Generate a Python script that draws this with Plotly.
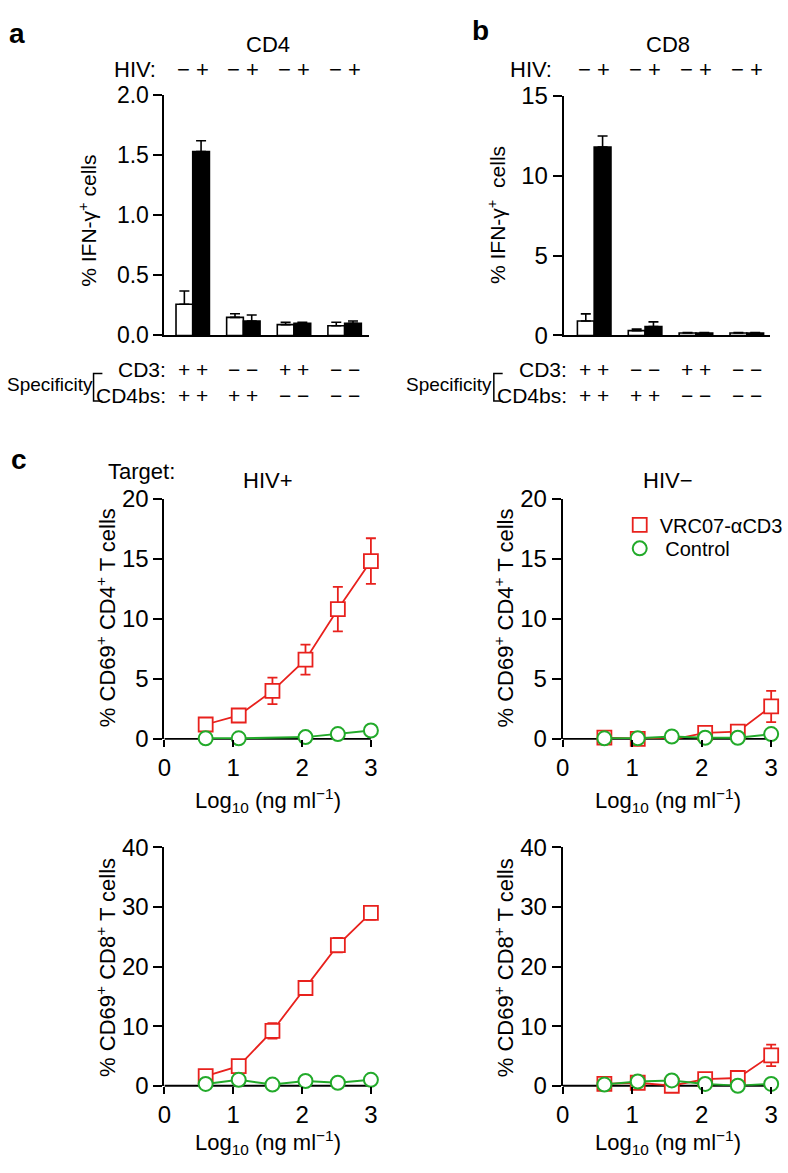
import plotly.graph_objects as go

W, H = 788, 1173
FONT = "Liberation Sans, Arial, Helvetica, sans-serif"
RED = "#e8211d"
GREEN = "#22aa2a"

# ---------------- data ----------------
cats = [0, 1, 2, 3]
hiv_signs = ["− +", "− +", "− +", "− +"]
cd3_signs = ["+ +", "− −", "+ +", "− −"]
cd4bs_signs = ["+ +", "+ +", "− −", "− −"]

# panel a (CD4)
cd4_neg = [0.26, 0.15, 0.09, 0.08]
cd4_neg_err = [0.11, 0.03, 0.02, 0.03]
cd4_pos = [1.53, 0.12, 0.10, 0.10]
cd4_pos_err = [0.09, 0.05, 0.01, 0.02]

# panel b (CD8)
cd8_neg = [0.9, 0.3, 0.15, 0.15]
cd8_neg_err = [0.45, 0.1, 0.03, 0.03]
cd8_pos = [11.8, 0.55, 0.15, 0.15]
cd8_pos_err = [0.7, 0.3, 0.03, 0.03]

# panel c
log_conc = [0.6, 1.08, 1.57, 2.05, 2.52, 3.0]
log_ticks = [0, 1, 2, 3]

tl_vrc = [1.2, 1.95, 4.0, 6.6, 10.8, 14.8]
tl_vrc_err = [0.3, 0.4, 1.1, 1.25, 1.85, 1.9]
tl_ctrl = [0.05, 0.05, None, 0.15, 0.4, 0.7]

tr_vrc = [0.1, 0.0, -0.05, 0.5, 0.6, 2.7]
tr_vrc_err = [0.0, 0.0, 0.0, 0.0, 0.0, 1.3]
tr_ctrl = [0.05, 0.05, 0.2, 0.1, 0.1, 0.4]

bl_vrc = [1.6, 3.3, 9.2, 16.4, 23.6, 29.0]
bl_vrc_err = [0.3, 0.4, 1.3, 1.1, 1.2, 1.1]
bl_ctrl = [0.3, 1.0, 0.2, 0.8, 0.5, 1.0]

br_vrc = [0.3, 0.5, 0.0, 1.1, 1.3, 5.1]
br_vrc_err = [0.0, 0.0, 0.0, 0.0, 0.0, 1.8]
br_ctrl = [0.2, 0.7, 0.9, 0.3, 0.0, 0.3]

series_names = ["VRC07-αCD3", " Control"]

# ---------------- helpers ----------------
def px(x):
    return x / W

def py(y):
    return 1 - y / H

fig = go.Figure()

def add_bars(xa, ya, neg, neg_err, pos, pos_err):
    zeros = [0] * len(neg)
    fig.add_trace(go.Bar(
        x=cats, y=neg, xaxis=xa, yaxis=ya, offsetgroup="neg", showlegend=False,
        marker=dict(color="white", line=dict(color="black", width=1.6)),
        error_y=dict(type="data", symmetric=False, array=neg_err, arrayminus=zeros,
                     color="black", thickness=1.6, width=5)))
    fig.add_trace(go.Bar(
        x=cats, y=pos, xaxis=xa, yaxis=ya, offsetgroup="pos", showlegend=False,
        marker=dict(color="black", line=dict(color="black", width=1.6)),
        error_y=dict(type="data", symmetric=False, array=pos_err, arrayminus=zeros,
                     color="black", thickness=1.6, width=5)))

add_bars("x", "y", cd4_neg, cd4_neg_err, cd4_pos, cd4_pos_err)
add_bars("x2", "y2", cd8_neg, cd8_neg_err, cd8_pos, cd8_pos_err)

SQ = dict(symbol="square", size=14, color="white", line=dict(color=RED, width=1.8))
CI = dict(symbol="circle", size=14, color="white", line=dict(color=GREEN, width=2))

def add_lines(xa, ya, vrc, vrc_err, ctrl):
    fig.add_trace(go.Scatter(
        x=log_conc, y=vrc, xaxis=xa, yaxis=ya, mode="lines+markers", showlegend=False,
        cliponaxis=False,
        line=dict(color=RED, width=1.8), marker=SQ,
        error_y=dict(type="data", array=vrc_err, color=RED, thickness=1.8, width=5)))
    fig.add_trace(go.Scatter(
        x=log_conc, y=ctrl, xaxis=xa, yaxis=ya, mode="lines+markers", showlegend=False,
        cliponaxis=False, connectgaps=True,
        line=dict(color=GREEN, width=2), marker=CI))

add_lines("x3", "y3", tl_vrc, tl_vrc_err, tl_ctrl)
add_lines("x4", "y4", tr_vrc, tr_vrc_err, tr_ctrl)
add_lines("x5", "y5", bl_vrc, bl_vrc_err, bl_ctrl)
add_lines("x6", "y6", br_vrc, br_vrc_err, br_ctrl)

# legend-only entries (two separate legends for exact placement)
fig.add_trace(go.Scatter(x=[None], y=[None], xaxis="x4", yaxis="y4", mode="markers",
                         name=series_names[0], marker=SQ, showlegend=True, legend="legend"))
fig.add_trace(go.Scatter(x=[None], y=[None], xaxis="x4", yaxis="y4", mode="markers",
                         name=series_names[1], marker=CI, showlegend=True, legend="legend2"))

# ---------------- axes ----------------
AX = dict(showline=True, linecolor="black", linewidth=1.8, showgrid=False, zeroline=False,
          fixedrange=True, tickcolor="black", tickwidth=1.8,
          tickfont=dict(family=FONT, size=24, color="black"))

XMAX = 3.08  # a little room right of the last tick so end error caps are not clipped

def xbar(dom_px, rng, anchor):
    d = dict(AX)
    d.update(domain=[px(dom_px[0]), px(dom_px[1])], range=rng, anchor=anchor,
             ticks="", showticklabels=False)
    return d

def yaxis(dom_px, rng, anchor, tickvals, ticktext=None, size=24):
    d = dict(AX)
    d.update(domain=[py(dom_px[1]), py(dom_px[0])], range=rng, anchor=anchor,
             ticks="outside", ticklen=9, tickvals=tickvals)
    d["tickfont"] = dict(family=FONT, size=size, color="black")
    if ticktext is not None:
        d["ticktext"] = ticktext
    return d

def xline(x0, x3, anchor):
    # x0 / x3: pixel positions of ticks 0 and 3
    xend = x0 + (x3 - x0) * XMAX / 3.0
    d = dict(AX)
    d.update(domain=[px(x0), px(xend)], range=[0, XMAX], anchor=anchor,
             showline=False, ticks="outside", ticklen=7, tickvals=log_ticks)
    return d

fig.update_layout(
    xaxis=xbar((160, 368), [-0.56, 3.48], "y"),
    yaxis=yaxis((83, 329), [0, 2], "x", [0, 0.5, 1, 1.5, 2],
                ["0.0", "0.5", "1.0", "1.5", "2.0"], size=23),
    xaxis2=xbar((566, 776), [-0.6, 3.46], "y2"),
    yaxis2=yaxis((84, 329), [0, 15], "x2", [0, 5, 10, 15], size=24),
    xaxis3=xline(160, 370, "y3"),
    yaxis3=yaxis((496, 742), [0, 20], "x3", [0, 5, 10, 15, 20]),
    xaxis4=xline(565, 777, "y4"),
    yaxis4=yaxis((496, 742), [0, 20], "x4", [0, 5, 10, 15, 20]),
    xaxis5=xline(160, 370, "y5"),
    yaxis5=yaxis((853, 1097), [0, 40], "x5", [0, 10, 20, 30, 40]),
    xaxis6=xline(565, 777, "y6"),
    yaxis6=yaxis((853, 1097), [0, 40], "x6", [0, 10, 20, 30, 40]),
)

# ---------------- annotations ----------------
anns = []

def ann(text, x, y, size=21, xanchor="center", yanchor="middle", xref="paper",
        textangle=0):
    anns.append(dict(text=text, x=(px(x) if xref == "paper" else x), y=py(y),
                     xref=xref, yref="paper", xanchor=xanchor, yanchor=yanchor,
                     showarrow=False, textangle=textangle,
                     font=dict(family=FONT, size=size, color="black")))

ann("<b>a</b>", 10, 20, size=28)
ann("<b>b</b>", 481, 17, size=28)
ann("<b>c</b>", 12, 456, size=28)

ann("CD4", 265, 31, size=22)
ann("CD8", 672, 31, size=22)
ann("HIV:", 130, 57, size=22)
ann("HIV:", 533, 57, size=22)

for xr in ("x", "x2"):
    for c, s in zip(cats, hiv_signs):
        ann(s, c, 57, xref=xr, size=22)
    for c, s in zip(cats, cd3_signs):
        ann(s, c, 364, xref=xr)
    for c, s in zip(cats, cd4bs_signs):
        ann(s, c, 391, xref=xr)

ann("CD3:", 164, 364, xanchor="right")
ann("CD4bs:", 164, 391, xanchor="right")
ann("CD3:", 571, 364, xanchor="right")
ann("CD4bs:", 571, 391, xanchor="right")
ann("Specificity", 44, 379, size=19)
ann("Specificity", 449, 379, size=19)

ann("% IFN-γ<sup>+</sup> cells", 82, 212, textangle=-90)
ann("% IFN-γ<sup>+</sup>  cells", 498, 206, textangle=-90)

ann("Target:", 173, 468, xanchor="right", size=22)
ann("HIV+", 265, 477, size=22)
ann("HIV−", 672, 477, size=22)

ann("% CD69<sup>+</sup> CD4<sup>+</sup> T cells", 100, 618, size=22, textangle=-90)
ann("% CD69<sup>+</sup> CD4<sup>+</sup> T cells", 505, 618, size=22, textangle=-90)
ann("% CD69<sup>+</sup> CD8<sup>+</sup> T cells", 100, 976, size=22, textangle=-90)
ann("% CD69<sup>+</sup> CD8<sup>+</sup> T cells", 505, 976, size=22, textangle=-90)

xt = "Log<sub>10</sub> (ng ml<sup>−1</sup>)"
ann(xt, 265, 805, size=22)
ann(xt, 672, 805, size=22)
ann(xt, 265, 1155, size=22)
ann(xt, 672, 1155, size=22)

shapes = []
# specificity brackets
for bx in (88, 495):
    path = "M {a},{b} L {c},{b} L {c},{d} L {a},{d}".format(
        a=px(bx + 9), b=py(368), c=px(bx), d=py(396))
    shapes.append(dict(type="path", path=path, xref="paper", yref="paper",
                       line=dict(color="black", width=1.5)))
# x-axis baselines for panel c, spanning ticks 0..3 only, at each axis bottom
for xa, ybase in (("x3", 742), ("x4", 742), ("x5", 1097), ("x6", 1097)):
    shapes.append(dict(type="line", xref=xa, yref="paper", x0=log_ticks[0],
                       x1=log_ticks[-1], y0=py(ybase), y1=py(ybase), layer="below",
                       line=dict(color="black", width=1.8)))

LEG = dict(xanchor="left", yanchor="top", bgcolor="rgba(0,0,0,0)", itemwidth=30,
           borderwidth=0, font=dict(family=FONT, size=20, color="black"))

fig.update_layout(
    width=W, height=H, autosize=False,
    margin=dict(l=0, r=0, t=0, b=0),
    paper_bgcolor="white", plot_bgcolor="white",
    barmode="group", bargap=0.34, bargroupgap=0.0,
    font=dict(family=FONT, size=21, color="black"),
    annotations=anns, shapes=shapes,
    showlegend=True,
    legend=dict(LEG, x=px(623), y=py(503)),
    legend2=dict(LEG, x=px(623), y=py(527)),
)

fig.write_html("out.html", config={"displayModeBar": False},
               post_script="document.body.style.margin='0';document.body.style.overflow='hidden';")
